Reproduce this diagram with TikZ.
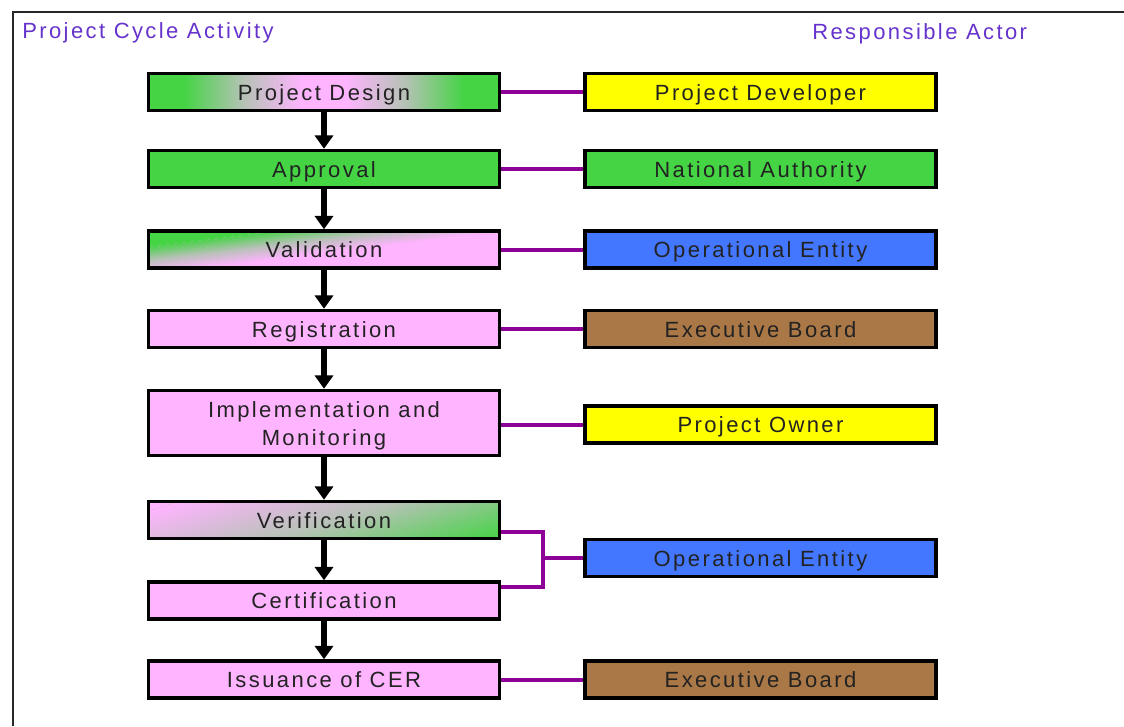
\documentclass[tikz,border=0pt]{standalone}
\usepackage{fontspec}
\setmainfont{Liberation Sans}
\newfontfamily\boxfont{Liberation Sans}[LetterSpace=11]
\usetikzlibrary{arrows.meta}

\definecolor{stepgreen}{RGB}{68,212,68}
\definecolor{steppink}{RGB}{255,180,255}
\definecolor{actyellow}{RGB}{255,255,0}
\definecolor{actblue}{RGB}{68,119,255}
\definecolor{actbrown}{RGB}{170,120,70}
\definecolor{linkpurple}{RGB}{140,0,150}
\definecolor{headcol}{RGB}{102,51,204}
\definecolor{textcol}{RGB}{34,34,34}
\definecolor{blendgrey}{RGB}{182,194,182}

% green ends, pink middle
\pgfdeclarehorizontalshading{greenends}{100bp}{color(0bp)=(stepgreen); color(30bp)=(stepgreen); color(38.5bp)=(blendgrey); color(47bp)=(steppink); color(53bp)=(steppink); color(61.5bp)=(blendgrey); color(70bp)=(stepgreen); color(100bp)=(stepgreen)}

% tilted three-colour blend made of thin bands (call inside a clip)
% #1,#2 centre; #3 tilt angle; #4,#5 offsets (above centre) where the
% blend starts and ends; #6 colour above, #7 middle colour, #8 colour below
\newcommand\tiltblend[8]{%
  \pgfmathsetmacro\tbS{sin(#3)}%
  \pgfmathsetmacro\tbC{cos(#3)}%
  \fill[#8] ({#1-220},{#2-120}) rectangle ({#1+220},{#2+120});
  \fill[#6] ({#1-220},{#2+(-#4-\tbS*(-220))/\tbC})
    -- ({#1+220},{#2+(-#4-\tbS*220)/\tbC})
    -- ({#1+220},{#2-150}) -- ({#1-220},{#2-150}) -- cycle;
  \foreach \k in {0,...,47} {%
    \pgfmathsetmacro\oa{#4-(#4-#5)*\k/48}%
    \pgfmathsetmacro\ob{#4-(#4-#5)*(\k+1.4)/48}%
    \pgfmathsetmacro\tbt{(\k+0.5)/48}%
    \ifdim\tbt pt<0.5pt
      \pgfmathsetmacro\pp{200*\tbt}\colorlet{tbcol}{#7!\pp!#6}%
    \else
      \pgfmathsetmacro\pp{200*\tbt-100}\colorlet{tbcol}{#8!\pp!#7}%
    \fi
    \fill[tbcol] ({#1-220},{#2+(-\oa-\tbS*(-220))/\tbC})
      -- ({#1+220},{#2+(-\oa-\tbS*220)/\tbC})
      -- ({#1+220},{#2+(-\ob-\tbS*220)/\tbC})
      -- ({#1-220},{#2+(-\ob-\tbS*(-220))/\tbC}) -- cycle;
  }%
}

\tikzset{
  stepbox/.style={draw=black, line width=2.6pt, minimum width=263pt,
    minimum height=27.75pt, fill=steppink, text=textcol, inner sep=0pt,
    text height=12pt, text depth=0pt,
    font=\boxfont\fontsize{16.5}{21}\selectfont, align=center},
  actorbox/.style={stepbox},
  flow/.style={line width=4pt, -{Triangle[width=13.5pt,length=10pt]}},
  link/.style={draw=linkpurple, line width=3pt},
  heading/.style={text=headcol, anchor=west, inner sep=0pt,
    font=\boxfont\fontsize{16.5}{20}\selectfont}
}

\begin{document}
\begin{tikzpicture}[x=0.75pt, y=-0.75pt]
\useasboundingbox (0,0) rectangle (1124,726);
\fill[white] (0,0) rectangle (1124,726);

% frame
\draw[line width=1.5pt, black!85] (13,726) -- (13,12) -- (1124,12);

% headings
\node[heading] (hleft) at (22,33) {Project Cycle Activity};
\node[heading] (hright) at (812,34) {Responsible Actor};

% tilted colour blend: green in the upper left, pink elsewhere
\begin{scope}
  \clip (148.7,231) rectangle (499.3,268);
  \tiltblend{324}{249.5}{7}{24}{-4}{stepgreen}{blendgrey}{steppink}
\end{scope}
% tilted colour blend: pink in the upper left, green in the lower right
\begin{scope}
  \clip (148.7,501.5) rectangle (499.3,538.5);
  \tiltblend{324}{520}{17}{60}{-70}{steppink}{blendgrey}{stepgreen}
\end{scope}

% project cycle activities
\node[stepbox, shading=greenends] (pd) at (324,92) {Project Design};
\node[stepbox, fill=stepgreen] (ap) at (324,169) {Approval};
\node[stepbox, fill=none] (va) at (324,249.5) {Validation};
\node[stepbox] (re) at (324,329) {Registration};
\node[stepbox, minimum height=48.75pt, text height=33pt] (im) at (324,423) {Implementation and\\Monitoring};
\node[stepbox, fill=none] (ve) at (324,520) {Verification};
\node[stepbox] (ce) at (324,600.5) {Certification};
\node[stepbox] (is) at (324,679.5) {Issuance of CER};

% responsible actors
\node[actorbox, fill=actyellow] (dev) at (760.5,92) {Project Developer};
\node[actorbox, fill=stepgreen] (nat) at (760.5,169) {National Authority};
\node[actorbox, fill=actblue] (oe1) at (760.5,249.5) {Operational Entity};
\node[actorbox, fill=actbrown] (eb1) at (760.5,329) {Executive Board};
\node[actorbox, fill=actyellow] (own) at (760.5,424.5) {Project Owner};
\node[actorbox, fill=actblue] (oe2) at (760.5,558) {Operational Entity};
\node[actorbox, fill=actbrown] (eb2) at (760.5,679.5) {Executive Board};

% cycle flow
\draw[flow] (pd) -- (ap);
\draw[flow] (ap) -- (va);
\draw[flow] (va) -- (re);
\draw[flow] (re) -- (im);
\draw[flow] (im) -- (ve);
\draw[flow] (ve) -- (ce);
\draw[flow] (ce) -- (is);

% activity to actor links
\draw[link] (pd) -- (dev);
\draw[link] (ap) -- (nat);
\draw[link] (va) -- (oe1);
\draw[link] (re) -- (eb1);
\draw[link] (im.east |- own) -- (own.west);
\draw[link] (is) -- (eb2);
\coordinate (fork) at (543,558);
\draw[link] ([yshift=-9pt]ve.east) -| (fork) |- ([yshift=10pt]ce.east);
\draw[link] (fork) -- (oe2.west);
\end{tikzpicture}
\end{document}
